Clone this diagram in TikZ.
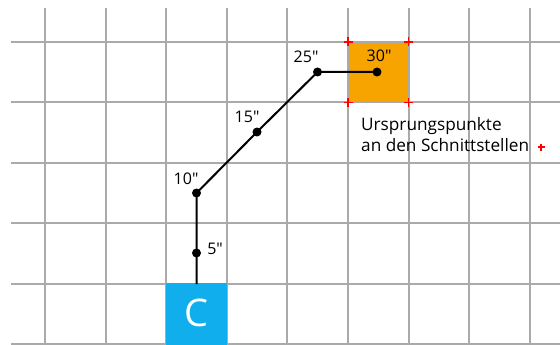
\documentclass[tikz,border=0pt]{standalone}
\usepackage{fontspec}
\setmainfont{Open Sans}
\definecolor{gridgray}{HTML}{AAAAAA}
\definecolor{skyb}{HTML}{11AEEE}
\definecolor{orng}{HTML}{F8A400}
\begin{document}
\begin{tikzpicture}[x=1pt,y=-1pt,
  gridline/.style={draw=gridgray,line width=2pt},
  pathline/.style={draw=black,line width=2pt},
  dotpt/.style={circle,fill=black,inner sep=0pt,minimum size=9pt},
  lbl/.style={font=\fontsize{16}{18}\selectfont,inner sep=0pt},
  txt/.style={font=\fontsize{17.2}{19}\selectfont,inner sep=0pt,anchor=base west},
  redplus/.style={draw=red,line width=1.5pt}]
\useasboundingbox (0,0) rectangle (560,345);
\fill[white] (0,0) rectangle (560,345);
% filled squares
\fill[orng] (348,42) rectangle (408,102);
% grid
\foreach \x in {45,105.6,166.2,226.8,287.4,348,408.6,469.2,529.8}
  \draw[gridline] (\x,8) -- (\x,345);
\foreach \y in {42,102.4,162.8,223.2,283.6,344}
  \draw[gridline] (11,\y) -- (560,\y);
\fill[skyb] (166,283) rectangle (227,345);
\node[text=white,font=\fontsize{38}{40}\selectfont,inner sep=0pt] (c) at (196.5,313) {C};
% red plus marks
\foreach \px/\py in {348/42,408.6/42,348/102.4,408.6/102.4}
  \draw[redplus] (\px-4.5,\py) -- (\px+4.5,\py) (\px,\py-4.5) -- (\px,\py+4.5);
% path
\coordinate (start) at (196.5,284);
\node[dotpt] (d5) at (196.5,253) {};
\node[dotpt] (d10) at (196.5,193) {};
\node[dotpt] (d15) at (257,132) {};
\node[dotpt] (d25) at (317.5,72) {};
\node[dotpt] (d30) at (377,72) {};
\draw[pathline] (start) -- (d5.center) -- (d10.center) -- (d15.center) -- (d25.center) -- (d30.center);
% labels
\node[lbl] (l5) at (215,249) {5″};
\node[lbl] (l10) at (186,179) {10″};
\node[lbl] (l15) at (247,117) {15″};
\node[lbl] (l25) at (306,57) {25″};
\node[lbl] (l30) at (379,56) {30″};
\node[txt] (txt1) at (361,130) {Ursprungspunkte};
\node[txt] (txt2) at (361,151) {an den Schnittstellen};
\coordinate (rp) at (541,147);
\draw[red,line width=1.2pt] ([xshift=-3.5pt]rp) -- ([xshift=3.5pt]rp) ([yshift=-3.5pt]rp) -- ([yshift=3.5pt]rp);
\end{tikzpicture}
\end{document}
